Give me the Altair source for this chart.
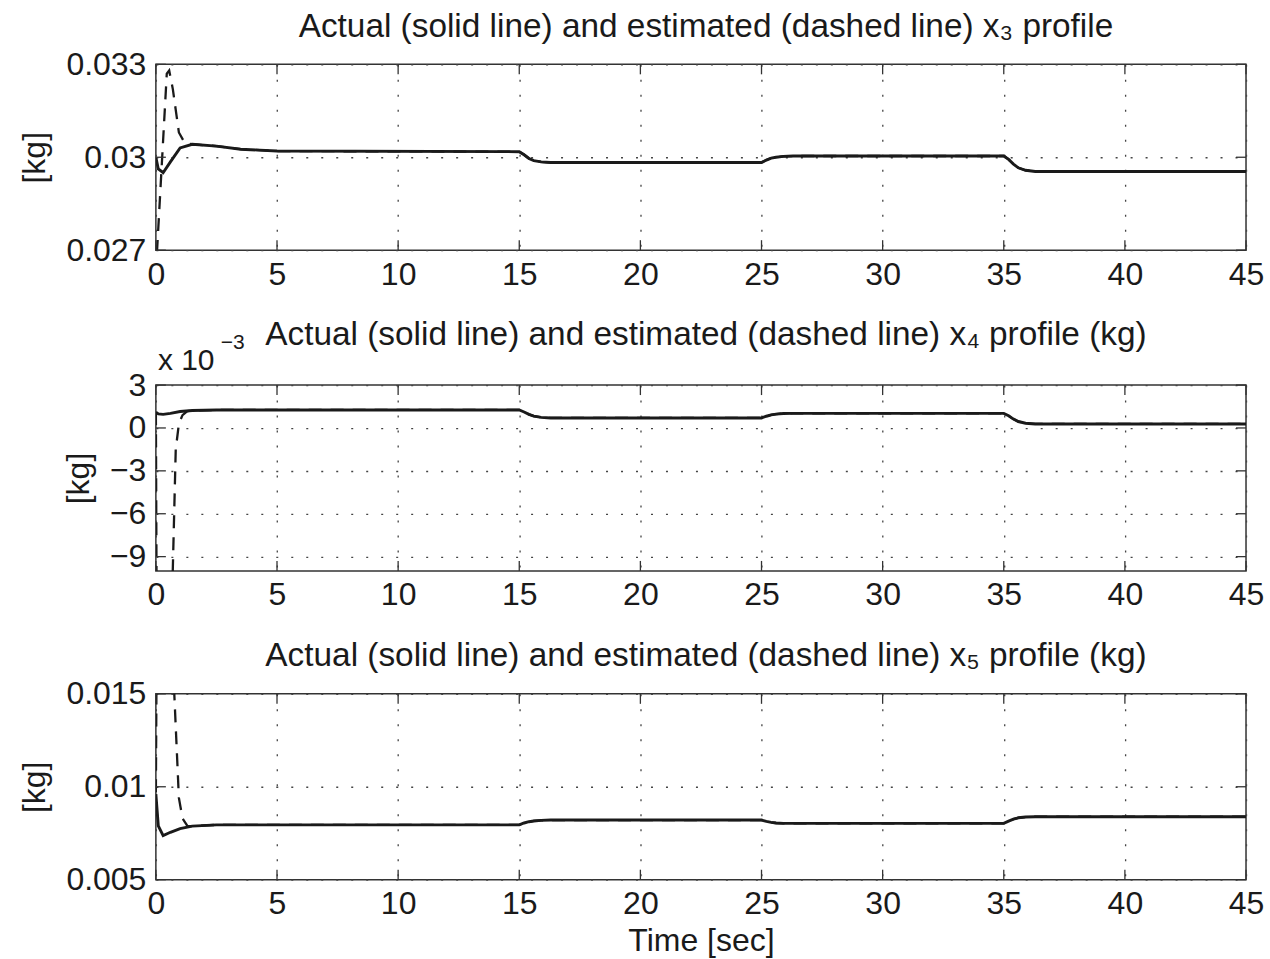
import altair as alt
import pandas as pd

FONT = "Liberation Sans"
INK = "#1a1a1a"

# time axis
XTICKS = [0, 5, 10, 15, 20, 25, 30, 35, 40, 45]

# actual trajectories, shared time base
T_ACT = [0, 0.1, 0.3, 0.6, 1.0, 1.5, 2.5, 3.5, 5, 15, 15.2, 15.4, 15.6, 15.9, 16.3,
         25, 25.2, 25.4, 25.6, 25.9, 26.3, 35, 35.2, 35.4, 35.6, 35.9, 36.3, 45]
X3_ACT = [0.03000, 0.02962, 0.02950, 0.02985, 0.03030, 0.03042, 0.03036, 0.03026, 0.03020,
          0.03018, 0.03008, 0.02996, 0.02989, 0.02985, 0.02983,
          0.02983, 0.02991, 0.02997, 0.03000, 0.03003, 0.03004,
          0.03004, 0.02993, 0.02978, 0.02966, 0.02958, 0.02954, 0.02954]
# x4 in units of 1e-3 kg
X4_ACT = [1.10, 0.98, 0.95, 1.02, 1.15, 1.22, 1.26, 1.26, 1.26,
          1.26, 1.12, 0.95, 0.83, 0.74, 0.70,
          0.70, 0.82, 0.92, 0.97, 1.01, 1.02,
          1.02, 0.85, 0.62, 0.45, 0.33, 0.28, 0.28]
X5_ACT = [0.00960, 0.00790, 0.00737, 0.00755, 0.00775, 0.00788, 0.00795, 0.00795, 0.00795,
          0.00795, 0.00805, 0.00812, 0.00816, 0.00819, 0.00821,
          0.00821, 0.00814, 0.00808, 0.00805, 0.00803, 0.00803,
          0.00803, 0.00815, 0.00826, 0.00833, 0.00837, 0.00839, 0.00839]

# estimator start-up; after t = 1.5 s the estimate sits on the actual trajectory
T3_EST_START = [0, 0.05, 0.45, 0.55, 0.7, 0.95, 1.2]
X3_EST_START = [0.0262, 0.0270, 0.0327, 0.0328, 0.0322, 0.0308, 0.03045]
T4_EST_START = [0, 0.03, 0.69, 0.82, 0.95, 1.1, 1.3]
X4_EST_START = [1.1, -12.0, -10.5, -1.5, 0.3, 0.9, 1.18]
T5_EST_START = [0, 0.03, 0.7, 0.76, 0.95, 1.1, 1.3]
X5_EST_START = [0.0097, 0.0170, 0.0165, 0.0150, 0.0094, 0.0083, 0.0079]

TITLES = [
    "Actual (solid line) and estimated (dashed line) x\u2083 profile",
    "Actual (solid line) and estimated (dashed line) x\u2084 profile (kg)",
    "Actual (solid line) and estimated (dashed line) x\u2085 profile (kg)",
]

W, H = 1091, 186


def estimate(t_start, y_start, y_act):
    tail = [(t, y) for t, y in zip(T_ACT, y_act) if t >= 1.5]
    return pd.DataFrame({"t": t_start + [p[0] for p in tail],
                         "v": y_start + [p[1] for p in tail]})


def label(text, x, y, size, align="left"):
    return alt.Chart(pd.DataFrame({"s": [text]})).mark_text(
        align=align, baseline="alphabetic", font=FONT, fontSize=size, color=INK
    ).encode(text="s:N", x=alt.value(x), y=alt.value(y))


def panel(y_act, est_df, ydomain, yticks, yfmt, title, title_y, xtitle=None, extra=()):
    act_df = pd.DataFrame({"t": T_ACT, "v": y_act})
    xs = alt.Scale(domain=[0, 45], nice=False, zero=False)
    ys = alt.Scale(domain=ydomain, nice=False, zero=False)

    x_axis = alt.Axis(values=XTICKS, labelPadding=9, labelFlush=False, title=xtitle,
                      titlePadding=6)
    y_axis = alt.Axis(values=yticks, format=yfmt, labelPadding=10, labelFlush=False,
                      title="[kg]", titlePadding=14)
    X = alt.X("t:Q", scale=xs, axis=x_axis)
    Y = alt.Y("v:Q", scale=ys, axis=y_axis)

    est = alt.Chart(est_df).mark_line(clip=True, color=INK, strokeWidth=2.3,
                                      strokeDash=[13, 9]).encode(x=X, y=Y, order="t:Q")
    act = alt.Chart(act_df).mark_line(clip=True, color=INK, strokeWidth=2.9).encode(
        x=X, y=Y, order="t:Q")

    yt = pd.DataFrame({"v": yticks})
    xt = pd.DataFrame({"t": XTICKS})
    tick = dict(color="#333", strokeWidth=1.3)
    ticks = [
        alt.Chart(yt).mark_rule(**tick).encode(y=Y, x=alt.value(0), x2=alt.value(10)),
        alt.Chart(yt).mark_rule(**tick).encode(y=Y, x=alt.value(W - 10), x2=alt.value(W)),
        alt.Chart(xt).mark_rule(**tick).encode(x=X, y=alt.value(0), y2=alt.value(10)),
        alt.Chart(xt).mark_rule(**tick).encode(x=X, y=alt.value(H - 10), y2=alt.value(H)),
    ]
    head = label(title, W / 2 + 5, title_y, 33.4, align="center")
    layers = [est, act] + ticks + [head] + list(extra)
    return alt.layer(*layers).properties(width=W, height=H)


# exponent note for the x4 axis
exp_note = [label("x 10", 2, -15, 30), label("\u22123", 65, -36, 21)]

p3 = panel(X3_ACT, estimate(T3_EST_START, X3_EST_START, X3_ACT),
           [0.027, 0.033], [0.027, 0.03, 0.033], ".3~g", TITLES[0], -27)
p4 = panel(X4_ACT, estimate(T4_EST_START, X4_EST_START, X4_ACT),
           [-10, 3], [-9, -6, -3, 0, 3], "d", TITLES[1], -40, extra=exp_note)
p5 = panel(X5_ACT, estimate(T5_EST_START, X5_EST_START, X5_ACT),
           [0.005, 0.015], [0.005, 0.01, 0.015], ".3~g", TITLES[2], -28,
           xtitle="Time [sec]")

chart = alt.vconcat(p3, p4, p5, spacing=26).properties(
    padding={"top": 9, "left": 18, "right": 5, "bottom": 0},
    background="white",
).configure_view(
    stroke="#333", strokeWidth=1.5
).configure_axis(
    labelFont=FONT, labelFontSize=32, labelColor=INK,
    titleFont=FONT, titleFontSize=32, titleFontWeight="normal", titleColor=INK,
    domain=False, ticks=False,
    grid=True, gridDash=[2, 13], gridColor="#444", gridWidth=1.3,
)

chart.save("out.html", embed_options={"renderer": "svg", "actions": False})
